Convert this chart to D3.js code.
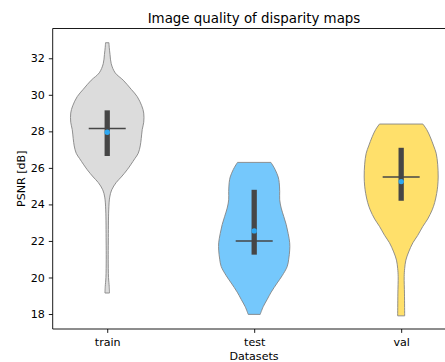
<!DOCTYPE html>
<html><head><meta charset="utf-8">
<script src="https://cdn.jsdelivr.net/npm/d3@7"></script>
<style>body{margin:0;background:#fff}svg{display:block;font-family:"DejaVu Sans",sans-serif}</style>
</head><body><svg id="c" width="445" height="362"></svg>
<script>
const categories = ["train", "test", "val"];
const colors = ["#dcdcdc", "#75c8fc", "#ffe06b"];
const yTicks = [18, 20, 22, 24, 26, 28, 30, 32];
// violin profiles: [value, relative density]
const trainProfile = [[32.85,1.7],[32.6,2],[32.2,2.8],[31.7,4],[31.2,8],[30.8,16],[30.3,24],[29.9,30],[29.4,34.5],[29.0,36.5],[28.5,36.5],[28.1,35],[27.6,34],[27.2,33],[26.8,31],[26.5,27.5],[25.9,20],[25.5,14],[25.2,9],[24.8,4.5],[24.4,2.5],[23.7,1.5],[22,1.1],[21,1.0],[20,1.3],[19.5,2],[19.15,2.3]];
const testProfile = [[26.3,16.7],[26.1,19],[25.9,21],[25.5,24],[25.2,25],[24.7,25.5],[24.25,25.5],[23.8,27],[23.35,29.5],[22.9,32],[22.4,34],[21.9,35.5],[21.5,35.5],[21.0,34.5],[20.6,33],[20.1,28],[19.7,23],[19.2,17],[18.8,13],[18.4,9],[17.98,6]];
const valProfile = [[28.4,21.7],[28.1,25.5],[27.7,29],[27.2,32.5],[26.8,35],[26.2,36.5],[25.5,37],[25.0,36.5],[24.6,35.5],[24.1,33.5],[23.7,31],[23.2,26.5],[22.8,21.7],[22.3,16.5],[21.9,11.7],[21.4,7.5],[20.95,4.7],[20.5,3.5],[20.05,3],[19.1,3.3],[17.9,3.5]];
const q1 = [26.65, 21.25, 24.2];
const q3 = [29.15, 24.8, 27.1];
const medians = [28.15, 22.0, 25.5];
const means = [27.95, 22.55, 25.25];

const profiles = [trainProfile, testProfile, valProfile];
const svg = d3.select("#c");
const pTop = 28.5, pBottom = 329, pLeft = 52.7, pRight = 455.7;
const y = d3.scaleLinear().domain([17.18, 33.63]).range([pBottom, pTop]);
const x = d3.scalePoint().domain(categories).range([pLeft, pRight]).padding(0.371);
const w = d3.scaleLinear().domain([0, 37]).range([0, 37]);

const g = svg.append("g");
profiles.forEach((p, i) => {
  const cx = x(categories[i]);
  const area = d3.area()
    .y(d => y(d[0]))
    .x0(d => cx - w(d[1]))
    .x1(d => cx + w(d[1]))
    .curve(d3.curveCatmullRom.alpha(0.5));
  g.append("path").datum(p).attr("d", area)
    .attr("fill", colors[i]).attr("stroke", "#858585").attr("stroke-width", 0.9);
  g.append("line").attr("x1", cx).attr("x2", cx).attr("y1", y(q1[i])).attr("y2", y(q3[i]))
    .attr("stroke", "#464646").attr("stroke-width", 5.3);
  g.append("line").attr("x1", cx - 18.5).attr("x2", cx + 18.5).attr("y1", y(medians[i])).attr("y2", y(medians[i]))
    .attr("stroke", "#464646").attr("stroke-width", 1.5);
  g.append("circle").attr("cx", cx).attr("cy", y(means[i])).attr("r", 2.7).attr("fill", "#2ea8f2");
});

// axes
const yAxis = d3.axisLeft(y).tickValues(yTicks).tickSize(3.9).tickPadding(3.9).tickFormat(d3.format("d"));
const ya = svg.append("g").attr("transform", `translate(${pLeft},0)`).call(yAxis);
ya.select(".domain").remove();
const xAxis = d3.axisBottom(x).tickSize(3.9).tickPadding(4.8);
const xa = svg.append("g").attr("transform", `translate(0,${pBottom})`).call(xAxis);
xa.select(".domain").remove();
[ya, xa].forEach(a => {
  a.selectAll("text").attr("font-size", 11.1).attr("font-family", "DejaVu Sans").attr("fill", "#000");
  a.selectAll("line").attr("stroke", "#000").attr("stroke-width", 0.9);
});
// spines
svg.append("path").attr("d", `M${pRight},${pTop}H${pLeft}V${pBottom}H${pRight}`)
  .attr("fill", "none").attr("stroke", "#000").attr("stroke-width", 0.9);

svg.append("text").attr("x", 254).attr("y", 23.3).attr("text-anchor", "middle")
  .attr("font-size", 13.4).text("Image quality of disparity maps");
svg.append("text").attr("x", 254).attr("y", 359.6).attr("text-anchor", "middle")
  .attr("font-size", 11.1).text("Datasets");
svg.append("text").attr("transform", `translate(24.8,${(pTop + pBottom) / 2}) rotate(-90)`)
  .attr("text-anchor", "middle").attr("font-size", 11.1).text("PSNR [dB]");
</script></body></html>
